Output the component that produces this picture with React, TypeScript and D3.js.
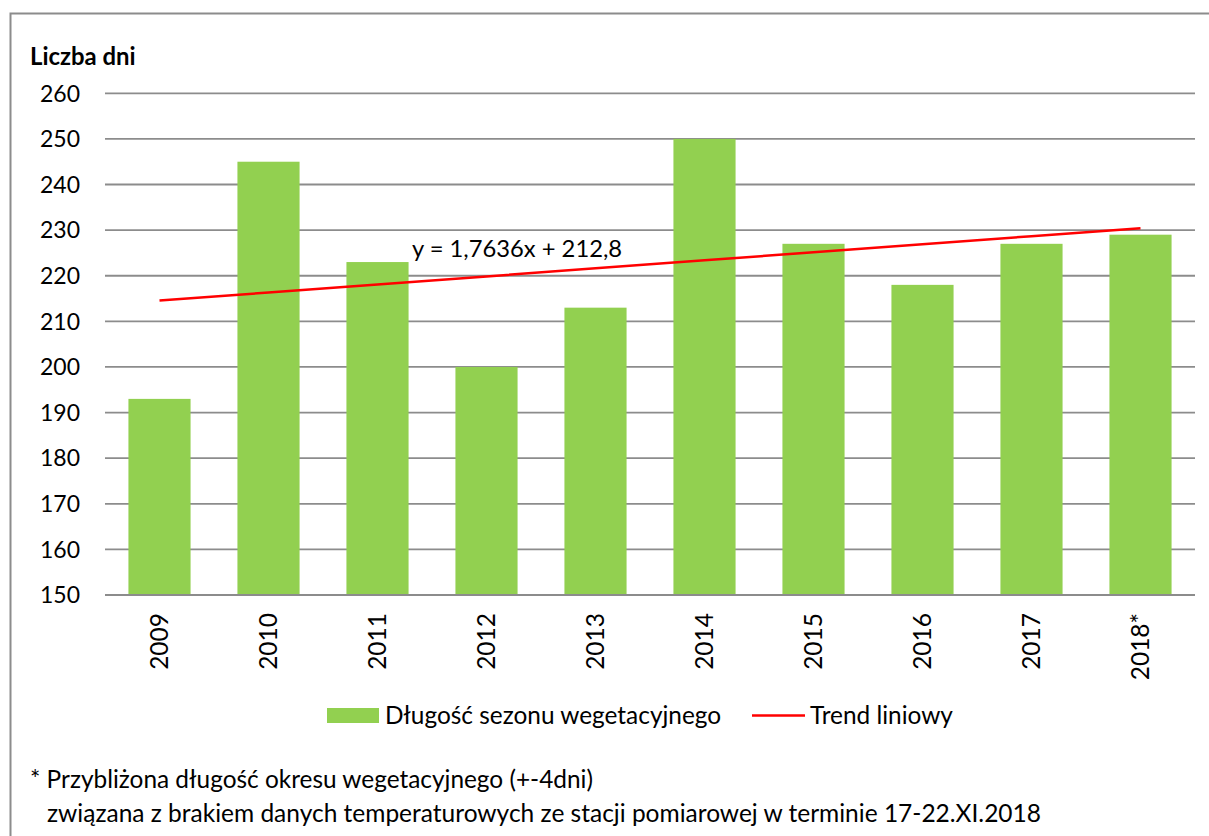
import React from "react";
import * as d3 from "d3";

const categories = ["2009", "2010", "2011", "2012", "2013", "2014", "2015", "2016", "2017", "2018*"];
const seasonLength = [193, 245, 223, 200, 213, 250, 227, 218, 227, 229];
const yTicks = [150, 160, 170, 180, 190, 200, 210, 220, 230, 240, 250, 260];
const trendSlope = 1.7636;
const trendIntercept = 212.8;
const trendLabel = "y = 1,7636x + 212,8";
const yTitle = "Liczba dni";
const legendBar = "Długość sezonu wegetacyjnego";
const legendLine = "Trend liniowy";
const footnote1 = "* Przybliżona długość okresu wegetacyjnego (+-4dni)";
const footnote2 = "związana z brakiem danych temperaturowych ze stacji pomiarowej w terminie 17-22.XI.2018";

const W = 1209;
const H = 836;
const FONT = "Lato, 'Open Sans', sans-serif";

export default function App() {
  const left = 105;
  const right = 1195;
  const top = 93.3;
  const bottom = 595;

  const x = d3.scaleBand<string>().domain(categories).range([left, right]).paddingInner(0.43).paddingOuter(0.215);
  const y = d3.scaleLinear().domain([150, 260]).range([bottom, top]);

  const trendData = categories.map((c, i) => ({ c, v: trendSlope * (i + 1) + trendIntercept }));
  const line = d3
    .line<{ c: string; v: number }>()
    .x((d) => (x(d.c) as number) + x.bandwidth() / 2)
    .y((d) => y(d.v));

  return (
    <svg
      width={W}
      height={H}
      style={{ position: "absolute", left: 0, top: 0, display: "block", background: "#fff" }}
      fontFamily={FONT}
    >
      <rect x={0} y={0} width={W} height={H} fill="#fff" />
      <rect x={10.5} y={13.5} width={W + 20} height={H + 20} fill="none" stroke="#8c8c8c" strokeWidth={2} />

      <text x={30} y={65} fontSize={23.9} fontWeight="bold" fill="#000">
        {yTitle}
      </text>

      {yTicks.map((t) => (
        <g key={t}>
          <line x1={left} x2={right} y1={y(t)} y2={y(t)} stroke="#8c8c8c" strokeWidth={1.8} />
          <text x={80} y={y(t)} dy="0.36em" textAnchor="end" fontSize={23} fill="#000">
            {t}
          </text>
        </g>
      ))}

      {categories.map((c, i) => (
        <rect
          key={c}
          x={x(c)}
          y={y(seasonLength[i])}
          width={x.bandwidth()}
          height={y(150) - y(seasonLength[i]) - 1}
          fill="#92d050"
        />
      ))}

      <path d={line(trendData) || ""} fill="none" stroke="#ff0000" strokeWidth={2.5} />

      <text x={412} y={257} fontSize={23.75} fill="#000">
        {trendLabel}
      </text>

      {categories.map((c) => {
        const cx = (x(c) as number) + x.bandwidth() / 2;
        return (
          <text
            key={c}
            transform={`translate(${cx + 8.5},${613}) rotate(-90)`}
            textAnchor="end"
            fontSize={24.5}
            fill="#000"
          >
            {c}
          </text>
        );
      })}

      <rect x={327} y={708} width={52} height={15} fill="#92d050" />
      <text x={385} y={724} fontSize={24.4} fill="#000">
        {legendBar}
      </text>
      <line x1={752} x2={805} y1={715.5} y2={715.5} stroke="#ff0000" strokeWidth={2.5} />
      <text x={810} y={724} fontSize={24.4} fill="#000">
        {legendLine}
      </text>

      <text x={30} y={788} fontSize={24.4} fill="#000">
        {footnote1}
      </text>
      <text x={47} y={822} fontSize={24.5} fill="#000">
        {footnote2}
      </text>
    </svg>
  );
}
